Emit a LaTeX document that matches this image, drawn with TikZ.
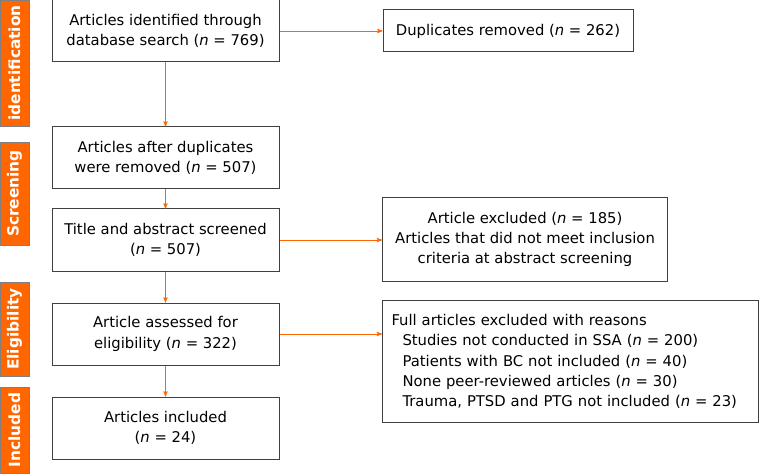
\documentclass[tikz,border=0pt]{standalone}
\usepackage{fontspec}
\setmainfont{DejaVu Sans}
\usetikzlibrary{positioning, arrows}
\definecolor{prismaorange}{RGB}{255,102,0}
\tikzset{
>=stealth', % arrow heads
mainbox/.style={rectangle, draw=black!75, line width=1pt, align=center, minimum width=227pt, minimum height=62pt, font=\fontsize{14.8}{20.3}\selectfont}, % flow boxes
sidebox/.style={rectangle, draw=black!75, line width=1pt, align=center, font=\fontsize{14.8}{20.3}\selectfont}, % exclusion boxes
stage/.style={rectangle, fill=prismaorange, draw=black!50, line width=0.6pt, rotate=90, minimum height=29pt, text=white, font=\fontsize{15.4}{17}\selectfont\bfseries}, % phase labels
flow/.style={->, draw=prismaorange, line width=0.9pt}, % connectors
}

\begin{document}
\begin{tikzpicture}[x=1pt, y=-1pt]
  \useasboundingbox (0,0) rectangle (761,476);

  % phases
  \node[stage, minimum width=126pt] (tagid) at (14.5,63) {identification};
  \node[stage, minimum width=103pt] (tagscr) at (14.5,193.5) {Screening};
  \node[stage, minimum width=94pt] (tagelig) at (14.5,329) {Eligibility};
  \node[stage, minimum width=86pt] (tagincl) at (14.5,430) {Included};

  % main column
  \node[mainbox] (ident) at (165.5,31) {Articles identified through\\database search (\textit{n} = 769)};
  \node[mainbox, below=64pt of ident] (dedup) {Articles after duplicates\\were removed (\textit{n} = 507)};
  \node[mainbox, below=19pt of dedup] (screen) {Title and abstract screened\\(\textit{n} = 507)};
  \node[mainbox, below=31pt of screen] (elig) {Article assessed for\\eligibility (\textit{n} = 322)};
  \node[mainbox, below=31pt of elig] (incl) {Articles included\\(\textit{n} = 24)};

  % exclusions
  \node[sidebox, minimum width=250pt, minimum height=42pt, right=103pt of ident] (dup) {Duplicates removed (\textit{n} = 262)};
  \node[sidebox, minimum width=285pt, minimum height=84pt, anchor=north west] (excl) at (382,197) {Article excluded (\textit{n} = 185)\\Articles that did not meet inclusion\\criteria at abstract screening};
  \node[sidebox, text width=358pt, minimum height=122pt, anchor=north west, align=left, inner sep=9pt] (full) at (382,300) {Full articles excluded with reasons\\
    \hspace*{11pt}Studies not conducted in SSA (\textit{n} = 200)\\
    \hspace*{11pt}Patients with BC not included (\textit{n} = 40)\\
    \hspace*{11pt}None peer-reviewed articles (\textit{n} = 30)\\
    \hspace*{11pt}Trauma, PTSD and PTG not included (\textit{n} = 23)};

  \draw[flow] (ident) -- (dedup);
  \draw[flow] (dedup) -- (screen);
  \draw[flow] (screen) -- (elig);
  \draw[flow] (elig) -- (incl);
  \draw[flow] (ident) -- (dup);
  \draw[flow] (screen.east) -- (screen.east -| excl.west);
  \draw[flow] (elig.east) -- (elig.east -| full.west);

\end{tikzpicture}
\end{document}
